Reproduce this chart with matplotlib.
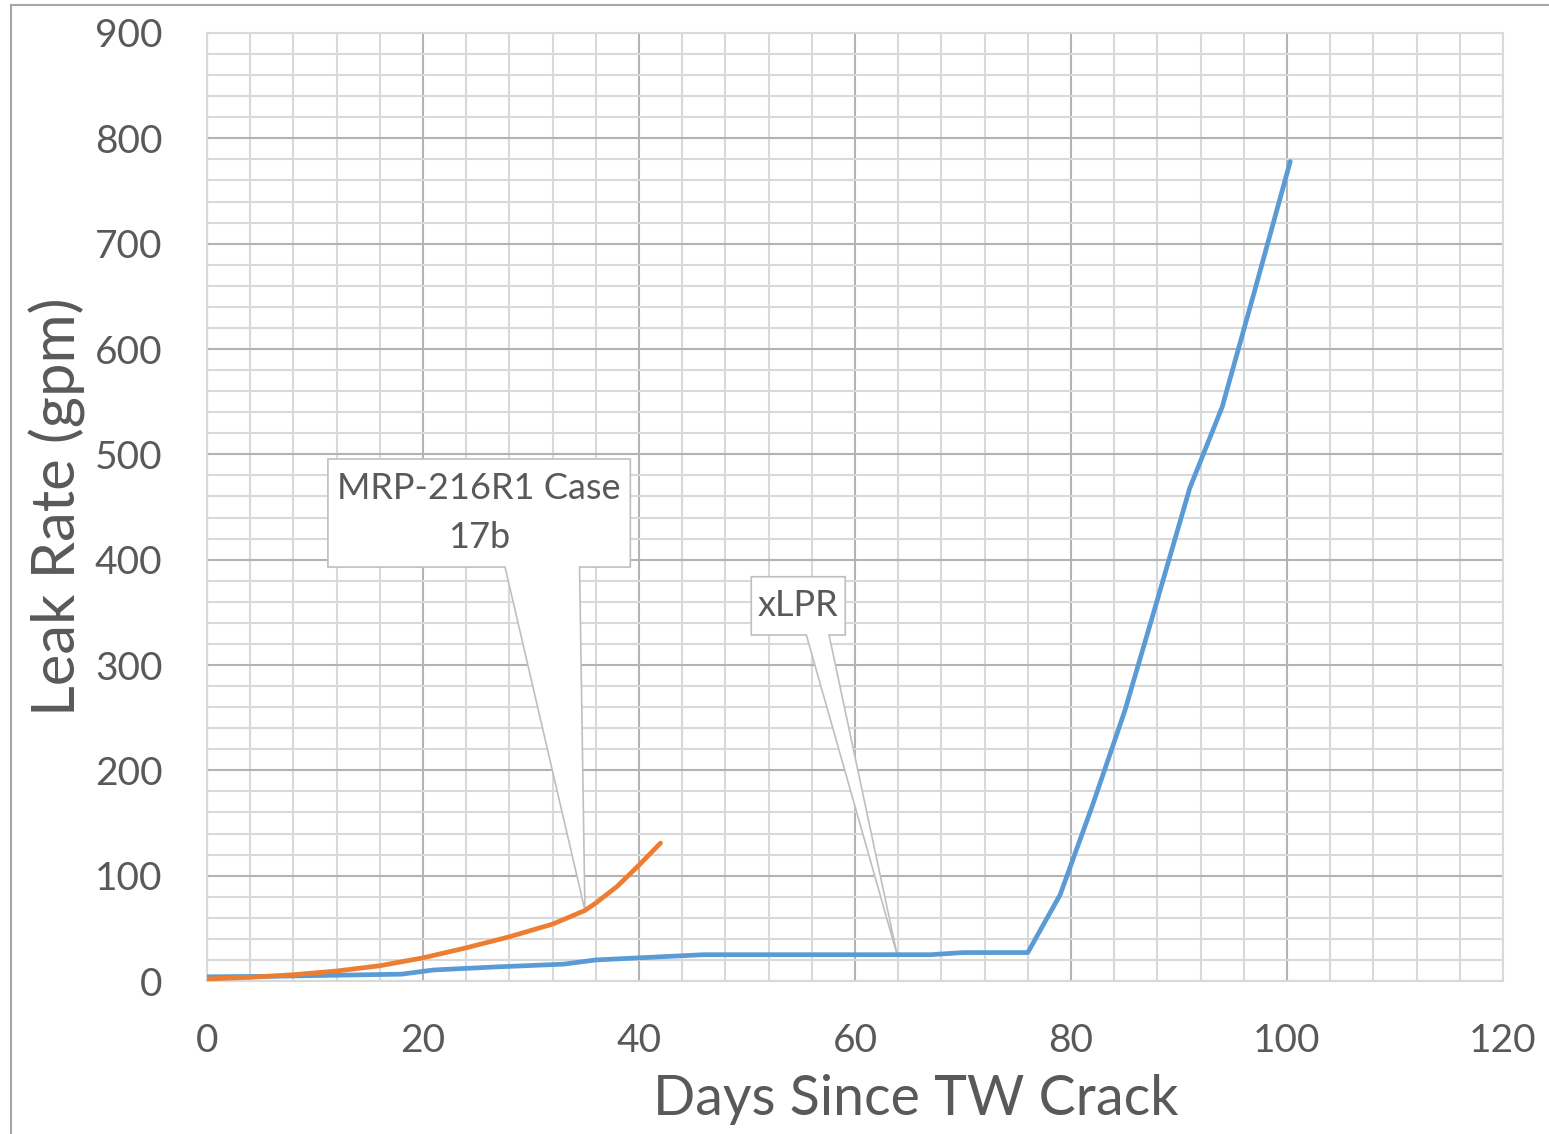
import matplotlib.pyplot as plt
from matplotlib.patches import Polygon, Rectangle
from matplotlib.ticker import MultipleLocator

plt.rcParams["font.family"] = ["Lato", "DejaVu Sans"]

# xLPR series
xlpr_days = [0, 6, 12, 18, 21, 27, 33, 36, 40, 46, 52, 58, 64, 67, 70, 76,
             79, 82, 85, 88, 91, 94, 97, 100.3]
xlpr_leak = [4, 4.5, 5.5, 6.5, 10.5, 13.5, 16, 20, 22, 25, 25, 25, 25, 25, 27, 27,
             82, 167, 257, 362, 468, 545, 655, 778]

# MRP-216R1 Case 17b series
mrp_days = [0, 4, 8, 12, 16, 20, 24, 28, 32, 35, 36, 38, 40, 42]
mrp_leak = [2, 3.5, 6, 9.5, 14.5, 22, 31.5, 42, 54, 67, 74, 90, 110, 131]

BLUE = "#5B9BD5"
ORANGE = "#ED7D31"
TEXT = "#595959"
EDGE = "#BFBFBF"


def callout(ax, box, base, tip, text):
    # box = (x0, x1, y0, y1), base = (bx0, bx1) along bottom edge
    x0, x1, y0, y1 = box
    pts = [(x0, y1), (x1, y1), (x1, y0), (base[1], y0), tip, (base[0], y0), (x0, y0)]
    ax.add_patch(Polygon(pts, closed=True, facecolor="white", edgecolor=EDGE,
                         linewidth=1.2, zorder=3))
    ax.text((x0 + x1) / 2, (y0 + y1) / 2, text, ha="center", va="center",
            fontsize=26, color=TEXT, linespacing=1.6, zorder=4)


fig = plt.figure(figsize=(15.49, 11.34), dpi=100)
ax = fig.add_axes([0.1336, 0.1349, 0.8367, 0.836])

fig.patches.append(Rectangle((11 / 1549, -0.1), 1.2, 1 - 5 / 1134 + 0.1,
                             transform=fig.transFigure, fill=False,
                             edgecolor="#A6A6A6", linewidth=1.5))

ax.plot(xlpr_days, xlpr_leak, color=BLUE, linewidth=3.4, zorder=5,
        solid_capstyle="round")
ax.plot(mrp_days, mrp_leak, color=ORANGE, linewidth=3.4, zorder=5,
        solid_capstyle="round")

callout(ax, (11.2, 39.2, 393, 495.6), (27.6, 34.5), (mrp_days[9], mrp_leak[9]),
        "MRP-216R1 Case\n17b")
callout(ax, (50.4, 59.1, 328.5, 383.8), (55.5, 57.6), (63.9, xlpr_leak[12]),
        "xLPR")

ax.set_xlim(0, 120)
ax.set_ylim(0, 900)
ax.xaxis.set_major_locator(MultipleLocator(20))
ax.xaxis.set_minor_locator(MultipleLocator(4))
ax.yaxis.set_major_locator(MultipleLocator(100))
ax.yaxis.set_minor_locator(MultipleLocator(20))

ax.grid(which="major", color="#B3B3B3", linewidth=1.5, zorder=1)
ax.grid(which="minor", color="#D9D9D9", linewidth=1.5, zorder=1)
ax.set_axisbelow(True)
for s in ax.spines.values():
    s.set_color("#D9D9D9")
    s.set_linewidth(1.5)

ax.tick_params(which="both", length=0, labelsize=28, labelcolor=TEXT)
ax.tick_params(axis="x", pad=30)
ax.tick_params(axis="y", pad=32)

ax.set_xlabel("Days Since TW Crack", fontsize=40, color=TEXT)
ax.set_ylabel("Leak Rate (gpm)", fontsize=43, color=TEXT)
ax.xaxis.set_label_coords(0.547, -0.098)
ax.yaxis.set_label_coords(-0.093, 0.5)

fig.savefig("out.png", dpi=100)
